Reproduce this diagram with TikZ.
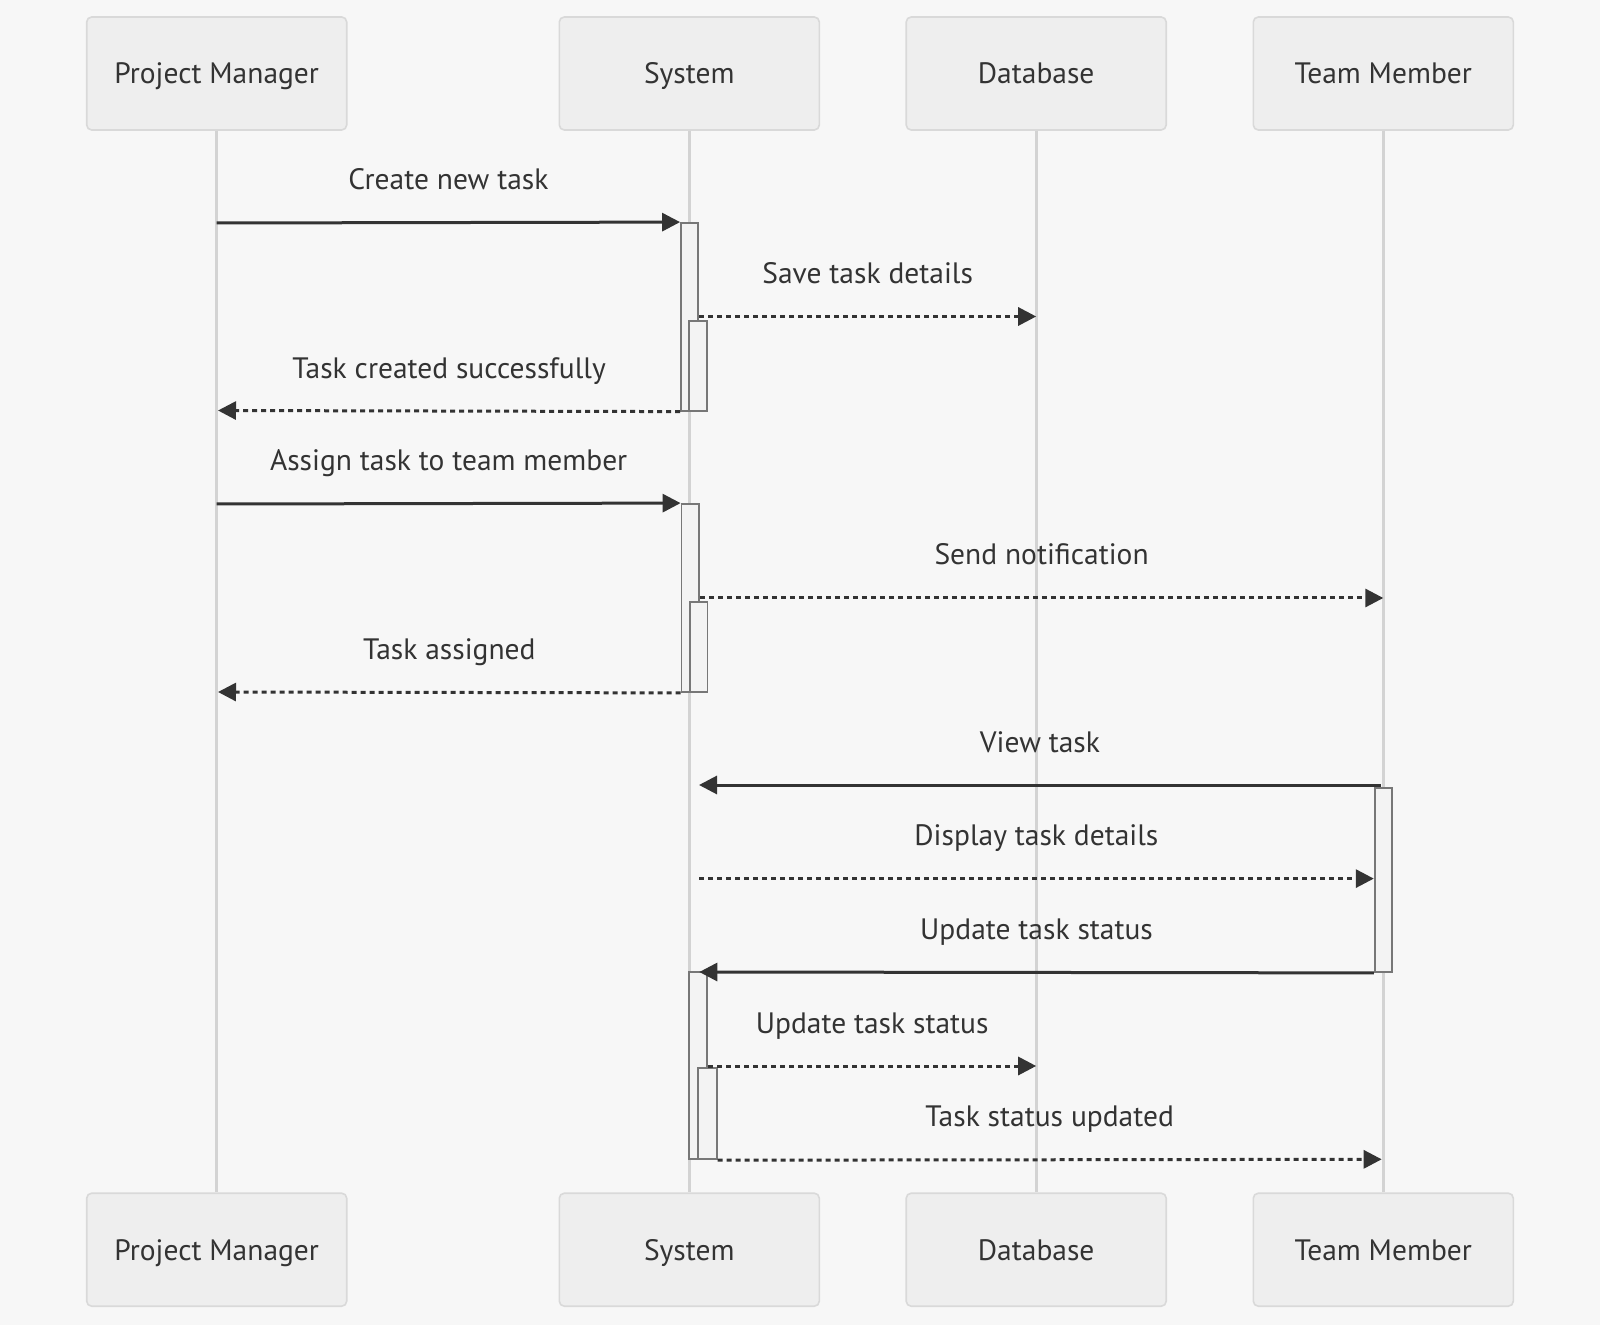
\documentclass[tikz,border=0pt]{standalone}
\usepackage{fontspec}
\setmainfont{PT Sans}
\usetikzlibrary{arrows.meta,fit}
\definecolor{bg}{HTML}{F7F7F7}
\definecolor{actfill}{HTML}{EEEEEE}
\definecolor{actline}{HTML}{D9D9D9}
\definecolor{life}{HTML}{D3D3D3}
\definecolor{txt}{HTML}{333333}
\definecolor{actvfill}{HTML}{F3F3F3}
\definecolor{actvline}{HTML}{777777}
\tikzset{
  actor/.style={draw=actline, fill=actfill, line width=0.8pt, rounded corners=2.5pt,
    minimum width=130pt, minimum height=56.5pt, inner sep=0pt,
    text height=10.3pt, text depth=0pt,
    font=\fontsize{14.75}{17}\selectfont, text=txt},
  lifeline/.style={draw=life, line width=1.4pt},
  actv/.style={draw=actvline, fill=actvfill, line width=0.9pt, inner sep=0pt},
  msg/.style={draw=txt, line width=1.5pt, -{Triangle[length=9pt,width=9pt]}},
  reply/.style={msg, dash pattern=on 2.5pt off 2pt},
  lbl/.style={font=\fontsize{14.75}{17}\selectfont, text=txt, anchor=base, yshift=16.5pt, inner sep=0pt},
}
\begin{document}
\begin{tikzpicture}[x=0.5pt,y=-0.5pt]
\useasboundingbox[fill=bg] (0,0) rectangle (1600,1325);
% actors
\foreach \n/\x/\t in {pm/216.7/Project Manager, sys/689.3/System, db/1036.2/Database, tm/1383.3/Team Member}{
  \node[actor] (\n T) at (\x,73.5) {\t};
  \node[actor] (\n B) at (\x,1249.7) {\t};
  \draw[lifeline] (\n T.south) -- (\n B.north);
}
% activations
\node[actv, fit={(681,223) (698.3,410.7)}] (a1) {};
\node[actv, fit={(689.3,320.7) (707.3,410.7)}] (a2) {};
\node[actv, fit={(681.5,504) (699,692)}] (a3) {};
\node[actv, fit={(690,602) (707.5,692)}] (a4) {};
\node[actv, fit={(1374.7,788.3) (1392.3,972)}] (a5) {};
\node[actv, fit={(689.3,972) (707.3,1159.3)}] (a6) {};
\node[actv, fit={(698.3,1068.3) (716.7,1159.3)}] (a7) {};
% endpoints
\coordinate (m1s) at (216.7,223);
\coordinate (m2e) at (1036.2,316.5);
\coordinate (m3e) at (218,410.5);
\coordinate (m4s) at (216.7,504);
\coordinate (m5e) at (1383.3,598);
\coordinate (m6e) at (218,692);
\coordinate (m7s) at (1381,785);
\coordinate (m7e) at (699,785);
\coordinate (m8s) at (699,878.6);
\coordinate (m9e) at (699.3,972);
\coordinate (m10e) at (1036.2,1066);
\coordinate (m11e) at (1381.7,1159.3);
% messages
\draw[msg] (m1s) -- (a1.north west) node[lbl, midway] {Create new task};
\draw[reply] (a1.east |- m2e) -- (m2e) node[lbl, midway] {Save task details};
\draw[reply] (a1.south west) -- (m3e) node[lbl, midway] {Task created successfully};
\draw[msg] (m4s) -- (a3.north west) node[lbl, midway] {Assign task to team member};
\draw[reply] (a3.east |- m5e) -- (m5e) node[lbl, midway] {Send notification};
\draw[reply] (a3.south west) -- (m6e) node[lbl, midway] {Task assigned};
\draw[msg] (m7s) -- (m7e) node[lbl, midway] {View task};
\draw[reply] (m8s) -- (a5.west |- m8s) node[lbl, midway] {Display task details};
\draw[msg] (a5.south west) -- (m9e) node[lbl, midway] {Update task status};
\draw[reply] (a6.east |- m10e) -- (m10e) node[lbl, midway] {Update task status};
\draw[reply] (a7.south east) -- (m11e) node[lbl, midway] {Task status updated};
\end{tikzpicture}
\end{document}
